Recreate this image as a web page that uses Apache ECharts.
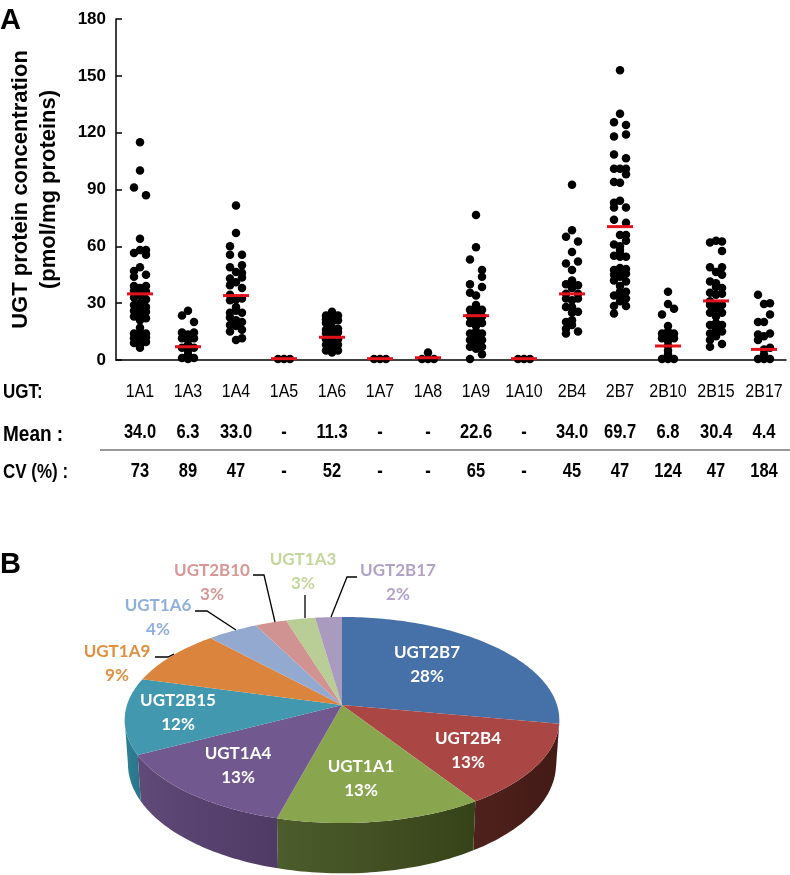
<!DOCTYPE html>
<html>
<head>
    <meta charset="utf-8">
    <title>UGT protein concentration</title>
    <script src="https://cdn.jsdelivr.net/npm/echarts@6/dist/echarts.min.js"></script>
    <style>
        html, body { margin: 0; padding: 0; background: #fff; }
    </style>
</head>

<body>
    <div id="demo" style="width: 790px;height:875px;"></div>
    <script type="text/javascript">
        // panel A: each isoform is [left column, centre column, right column] of the dot plot
        var categories = ['1A1', '1A3', '1A4', '1A5', '1A6', '1A7', '1A8', '1A9', '1A10', '2B4', '2B7', '2B10', '2B15', '2B17'];
        var u1A1 = [[91, 56.5, 47, 44, 39, 36.5, 33, 29, 26, 23, 14, 11.5, 9],
                    [115, 100, 64, 58, 49, 38, 34, 30, 27, 24, 21, 17, 14.5, 11, 8.5, 6.5],
                    [87, 58, 55.5, 45, 39, 36, 32, 28, 25.5, 22, 14, 12, 9.5]];
        var u1A3 = [[23.5, 14.5, 11.5, 6.5, 1],
                    [26, 13.5, 10.5, 8, 5, 3, 0.5],
                    [20, 14.5, 11.5, 6.5, 1]];
        var u1A4 = [[60, 55.5, 49, 43, 39.5, 34.5, 31.5, 25, 22.5, 18.5, 15],
                    [81.5, 67, 46.5, 41, 32, 28, 26, 21, 18, 10.5],
                    [55.5, 50, 46, 43.5, 38, 32.5, 25, 20, 16, 11.5]];
        var u1A5 = [[0.5], [0.5], [0.5]];
        var u1A6 = [[23.5, 21.5, 19.5, 16, 14, 11, 8, 5],
                    [25.5, 22, 20, 17, 15.5, 13, 10, 7.5, 5, 4],
                    [23.5, 21, 16.5, 14.5, 11, 8, 5]];
        var u1A7 = [[0.5], [0.5], [0.5]];
        var u1A8 = [[0.5], [4, 0.5], [0.5]];
        var u1A9 = [[53, 40, 35.5, 26.5, 23, 19.5, 14, 10.5, 7, 0.5],
                    [76.5, 59.5, 34, 29, 27, 24, 21, 18, 15, 12.5, 9, 6],
                    [47.5, 44, 38.5, 26.5, 23, 19.5, 14, 10.5, 7, 3]];
        var u1A10 = [[0.5], [0.5], [0.5]];
        var u2B4 = [[65, 51, 40, 35, 32.5, 28, 20, 16.5, 14],
                    [92.5, 68.5, 57, 47.5, 42, 38, 31.5, 28, 25, 21, 18.5],
                    [62.5, 52, 39.5, 35, 32.5, 25.5, 15]];
        var u2B7 = [[125.5, 118, 108.5, 101, 94, 83, 80.5, 74, 61, 55, 47.5, 45, 42, 34, 28.5, 24.5],
                    [153, 130, 101, 93.5, 84, 66, 60, 58, 56, 54.5, 48.5, 46, 44, 39, 36, 33.5, 31],
                    [124, 119, 106.5, 101, 98, 80.5, 72.5, 66, 63, 54.5, 48, 45.5, 41.5, 36, 32.5, 28.5]];
        var u2B10 = [[24, 14, 11.5, 0.5],
                     [36, 29.5, 18, 15, 12, 10, 7.5, 5, 3, 0.5],
                     [27, 14, 11.5, 0.5]];
        var u2B15 = [[62, 49, 41.5, 35.5, 31, 29, 25, 18.5, 14, 10.5, 7],
                     [63, 46.5, 40.5, 38.5, 34.5, 29, 27, 23, 19.5, 16, 12.5],
                     [62.5, 57.5, 49, 45, 38, 35, 29, 25, 18.5, 15, 8.5]];
        var u2B17 = [[34.5, 20, 13.5, 10.5, 0.5],
                     [29.5, 20, 12.5, 5.5, 3, 0.5],
                     [30, 24, 14, 6.5, 0.5]];
        var meanLine = [34.9, 7, 34, 0.7, 12, 0.7, 1.2, 23.4, 0.7, 34.9, 70.4, 7.4, 31.2, 5.6];

        // table under panel A
        var meanRow = ['34.0', '6.3', '33.0', '-', '11.3', '-', '-', '22.6', '-', '34.0', '69.7', '6.8', '30.4', '4.4'];
        var cvRow = ['73', '89', '47', '-', '52', '-', '-', '65', '-', '45', '47', '124', '47', '184'];

        // panel B, clockwise from 12 o'clock
        var pieNames = ['UGT2B7', 'UGT2B4', 'UGT1A1', 'UGT1A4', 'UGT2B15', 'UGT1A9', 'UGT1A6', 'UGT2B10', 'UGT1A3', 'UGT2B17'];
        var pieValues = [28, 13, 13.4, 13.2, 12, 8.9, 4.4, 2.7, 2.5, 2.3];

        var groups = [u1A1, u1A3, u1A4, u1A5, u1A6, u1A7, u1A8, u1A9, u1A10, u2B4, u2B7, u2B10, u2B15, u2B17];

        // styling for the pie
        var topColors = ['#4571a8', '#aa4643', '#89a54e', '#71588f', '#4198af', '#db843d', '#93a9cf', '#d19392', '#b9cd96', '#a99bbd'];
        var wallColors = [['#2c4a70', '#2c4a70'], ['#4f211c', '#431a16'], ['#4d5c2c', '#364319'], ['#5f4a78', '#4e3a64'], ['#2f8197', '#2a7389'],
                          ['#000', '#000'], ['#000', '#000'], ['#000', '#000'], ['#000', '#000'], ['#000', '#000']];
        var labelColors = ['#fff', '#fff', '#fff', '#fff', '#fff', '#e0913f', '#8fb0dc', '#d99694', '#c3d69b', '#b3a2c7'];
        var labelCentres = [[427, 665], [468, 751], [361, 779], [238, 766], [178, 713], [117, 664], [158, 618], [212, 583], [303, 572], [398, 583]];
        var leaders = [
            [[155, 657], [168, 657], [174, 654]],
            [[195, 611], [207, 611], [236, 630]],
            [[253, 575], [264, 575], [275, 622]],
            [[305, 595], [305, 618]],
            [[357, 577], [347, 577], [331, 617]]
        ];

        // the tilted disc is a circle pushed through a perspective, so the apex sits above the ellipse centre
        var cx = 342, R = 215, persp = 0.1456, depth = 43, shrink = 0.985;
        function rim(theta) {
            var d = 1 + persp * Math.cos(theta);
            return [cx + R * Math.sin(theta) / d, (1.8 * Math.cos(theta) + 705) / d, d];
        }
        function lower(p) {
            return [cx + (p[0] - cx) * shrink, p[1] + depth / p[2]];
        }
        function arc(a0, a1) {
            var pts = [], n = Math.max(2, Math.ceil((a1 - a0) / 0.02));
            for (var i = 0; i <= n; i++) {
                pts.push(rim(a0 + (a1 - a0) * i / n));
            }
            return pts;
        }

        var total = pieValues.reduce(function (a, b) { return a + b; }, 0);
        var running = 0;
        var pieData = pieValues.map(function (v) {
            var row = [running / total * 2 * Math.PI, (running + v) / total * 2 * Math.PI];
            running += v;
            return row;
        });

        function renderWall(params, api) {
            var wallFrom = 98.4 * Math.PI / 180, wallTo = 261.6 * Math.PI / 180;
            var a0 = Math.max(api.value(0), wallFrom), a1 = Math.min(api.value(1), wallTo);
            if (a1 <= a0) {
                return null;
            }
            var top = arc(a0, a1);
            var pts = top.map(function (p) { return [p[0], p[1]]; })
                .concat(top.slice().reverse().map(lower));
            var c = wallColors[params.dataIndex];
            return {
                type: 'polygon',
                shape: { points: pts },
                style: { fill: new echarts.graphic.LinearGradient(0, 0, 1, 0, [{ offset: 0, color: c[0] }, { offset: 1, color: c[1] }]) }
            };
        }

        function renderTop(params, api) {
            var pts = [[cx, 705]].concat(arc(api.value(0), api.value(1)).map(function (p) { return [p[0], p[1]]; }));
            return {
                type: 'polygon',
                shape: { points: pts },
                style: { fill: topColors[params.dataIndex] }
            };
        }

        function renderLabel(params) {
            var i = params.dataIndex;
            return {
                type: 'text',
                style: {
                    text: pieNames[i] + '\n' + Math.round(pieValues[i]) + '%',
                    x: labelCentres[i][0],
                    y: labelCentres[i][1],
                    align: 'center',
                    verticalAlign: 'middle',
                    fill: labelColors[i],
                    font: 'bold 17px Lato',
                    lineHeight: 24
                }
            };
        }

        var dots = [], colOffset = [-0.125, 0, 0.125];
        groups.forEach(function (g, i) {
            g.forEach(function (col, k) {
                col.forEach(function (v) {
                    dots.push([i + colOffset[k], v]);
                });
            });
        });

        var dom = document.getElementById('demo');
        var chart = echarts.init(dom);

        var axisStyle = { color: '#000', width: 1.5 };
        var option = {
            animation: false,
            grid: { left: 116, top: 19, width: 670, height: 341, outerBoundsMode: 'none' },
            xAxis: {
                type: 'value',
                min: -0.5,
                max: 13.458,
                containShape: false,
                axisLine: { onZero: false, lineStyle: axisStyle },
                axisTick: { show: false },
                axisLabel: { show: false },
                splitLine: { show: false }
            },
            yAxis: {
                type: 'value',
                min: 0,
                max: 180,
                interval: 30,
                containShape: false,
                name: 'UGT protein concentration\n(pmol/mg proteins)',
                nameLocation: 'middle',
                nameRotate: 90,
                nameGap: 53,
                nameTextStyle: { color: '#000', fontFamily: 'Liberation Sans', fontWeight: 'bold', fontSize: 22, lineHeight: 28 },
                axisLine: { show: true, onZero: false, lineStyle: axisStyle },
                axisTick: { show: true, inside: true, length: 6, lineStyle: axisStyle },
                axisLabel: { color: '#000', fontFamily: 'Liberation Sans', fontWeight: 'bold', fontSize: 17, margin: 10, padding: [4, 0, 0, 0] },
                splitLine: { show: false }
            },
            series: [
                {
                    type: 'scatter',
                    data: dots,
                    symbolSize: 8.5,
                    clip: false,
                    itemStyle: { color: '#000', opacity: 1 },
                    z: 3
                },
                {
                    type: 'scatter',
                    data: meanLine.map(function (v, i) { return [i, v]; }),
                    symbol: 'rect',
                    symbolSize: [26, 3],
                    clip: false,
                    itemStyle: { color: '#e3121c', opacity: 1 },
                    z: 4
                },
                { type: 'custom', coordinateSystem: 'none', renderItem: renderWall, data: pieData, silent: true, z: 5 },
                { type: 'custom', coordinateSystem: 'none', renderItem: renderTop, data: pieData, silent: true, z: 6 },
                { type: 'custom', coordinateSystem: 'none', renderItem: renderLabel, data: pieData, silent: true, z: 7 }
            ]
        };

        chart.setOption(option);

        // table text and panel letters; the reference table text is a bit stretched vertically
        function txt(text, x, y, font, align, stretch) {
            return {
                type: 'text',
                x: x,
                y: y,
                scaleY: stretch || 1.2,
                style: { text: text, x: 0, y: 0, font: font, fill: '#000', align: align || 'center', verticalAlign: 'middle' }
            };
        }
        var graphics = [
            txt('A', 0, 21, 'bold 29px "Liberation Sans"', 'left', 1),
            txt('B', 0, 565, 'bold 29px "Liberation Sans"', 'left', 1),
            txt('UGT:', 3, 392, 'bold 17px "Liberation Sans"', 'left'),
            txt('Mean :', 3, 435, 'bold 19px "Liberation Sans"', 'left'),
            txt('CV (%) :', 3, 472, 'bold 17px "Liberation Sans"', 'left'),
            { type: 'line', shape: { x1: 100, y1: 450, x2: 790, y2: 450 }, style: { stroke: '#333', lineWidth: 1.2 } }
        ];
        categories.forEach(function (c, i) {
            var x = chart.convertToPixel({ gridIndex: 0 }, [i, 0])[0];
            graphics.push(txt(c, x, 392, '16px "Liberation Sans"'));
            graphics.push(txt(meanRow[i], x, 433, 'bold 16.5px "Liberation Sans"'));
            graphics.push(txt(cvRow[i], x, 472, 'bold 16.5px "Liberation Sans"'));
        });
        leaders.forEach(function (pts) {
            graphics.push({ type: 'polyline', z: 100, shape: { points: pts }, style: { stroke: '#000', lineWidth: 1.3, fill: null } });
        });
        chart.setOption({ graphic: graphics });
    </script>
</body>
</html>
